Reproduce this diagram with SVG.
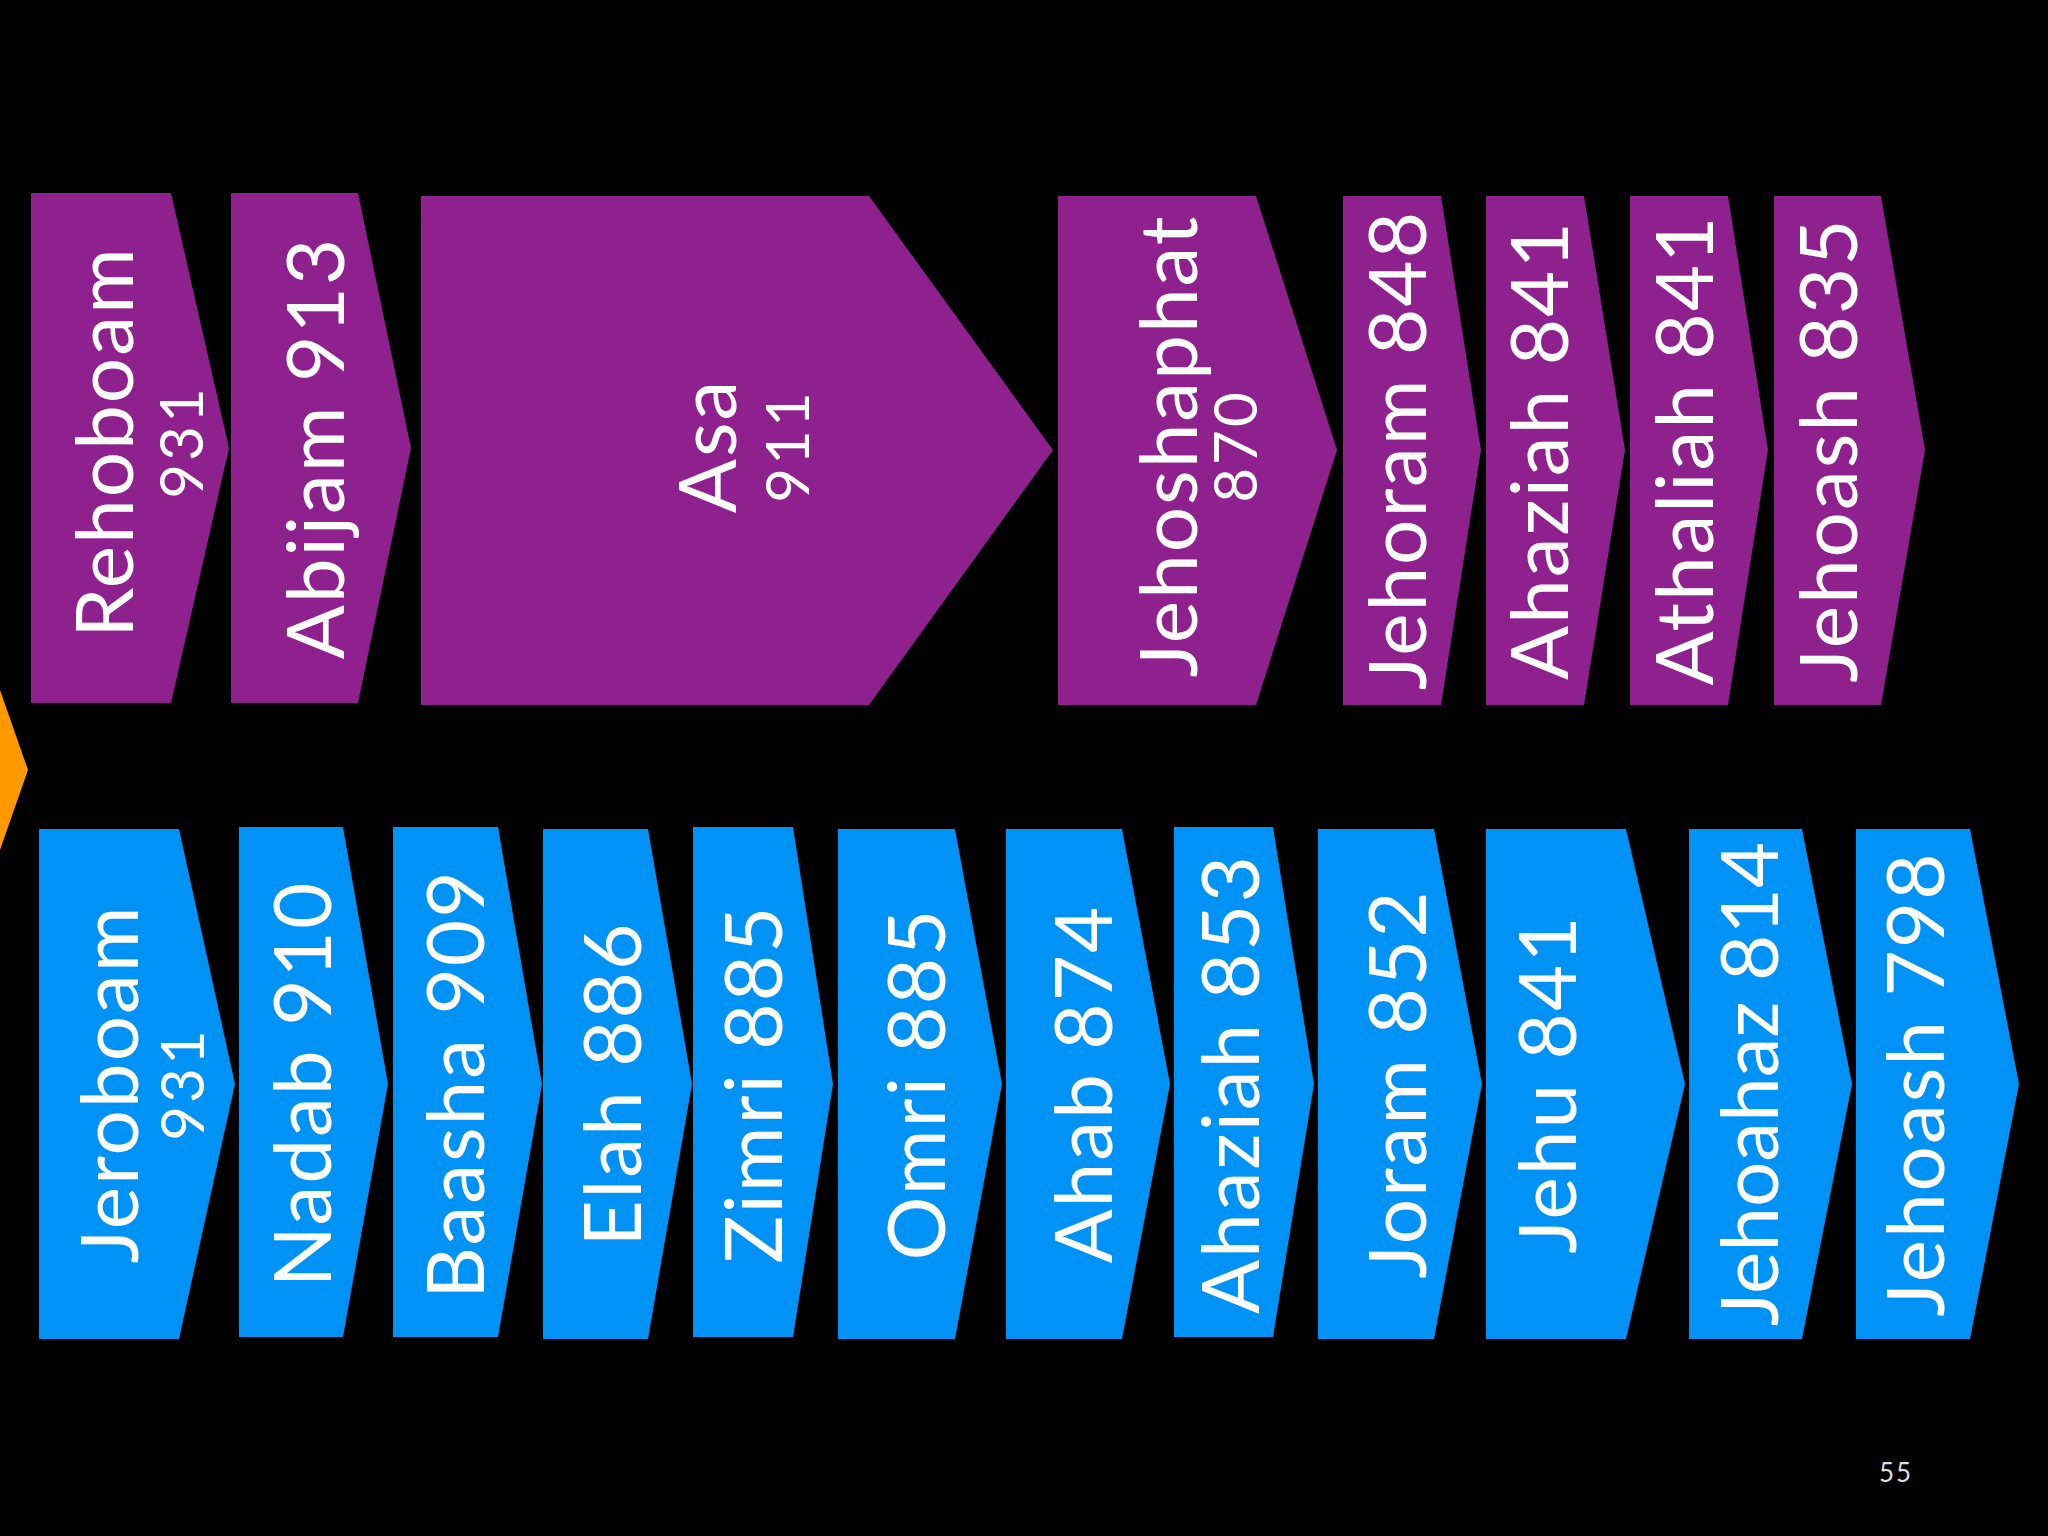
<svg xmlns="http://www.w3.org/2000/svg" width="2048" height="1536" viewBox="0 0 2048 1536">
<style>
.p{fill:#8F218F}.b{fill:#0092F5}
text{fill:#fff;font-family:Lato,"Open Sans",sans-serif;text-anchor:middle;dominant-baseline:central}
.m{font-size:80px;letter-spacing:2px}.s{font-size:60px;letter-spacing:3px}
</style>
<rect width="2048" height="1536" fill="#000"/>
<polygon points="0,690 28,770 0,850" fill="#FF9900"/>
<g id="rehoboam"><polygon class="p" points="31,193 171,193 229,448 171,703 31,703"/><text class="m" transform="translate(102,442) rotate(-90)">Rehoboam</text><text class="s" transform="translate(180,442) rotate(-90)">931</text></g>
<g id="abijam"><polygon class="p" points="231,193 358,193 411,448 358,703 231,703"/><text class="m" transform="translate(313,448) rotate(-90)">Abijam 913</text></g>
<g id="asa"><polygon class="p" points="421,196 869,196 1053,450 869,705 421,705"/><text class="m" transform="translate(705,446) rotate(-90)">Asa</text><text class="s" transform="translate(786,446) rotate(-90)">911</text></g>
<g id="jehoshaphat"><polygon class="p" points="1058,196 1256,196 1337,450 1256,705 1058,705"/><text class="m" transform="translate(1166,446) rotate(-90)">Jehoshaphat</text><text class="s" transform="translate(1234,446) rotate(-90)">870</text></g>
<g id="jehoram"><polygon class="p" points="1343,196 1441,196 1481,450 1441,705 1343,705"/><text class="m" transform="translate(1395,450) rotate(-90)">Jehoram 848</text></g>
<g id="ahaziah-j"><polygon class="p" points="1486,196 1584,196 1625,450 1584,705 1486,705"/><text class="m" transform="translate(1537,450) rotate(-90)">Ahaziah 841</text></g>
<g id="athaliah"><polygon class="p" points="1630,196 1728,196 1768,450 1728,705 1630,705"/><text class="m" transform="translate(1682,450) rotate(-90)">Athaliah 841</text></g>
<g id="jehoash-j"><polygon class="p" points="1774,196 1881,196 1925,450 1881,705 1774,705"/><text class="m" transform="translate(1826,450) rotate(-90)">Jehoash 835</text></g>
<g id="jeroboam"><polygon class="b" points="39,829 179,829 235,1084 179,1339 39,1339"/><text class="m" transform="translate(107,1084) rotate(-90)">Jeroboam</text><text class="s" transform="translate(181,1084) rotate(-90)">931</text></g>
<g id="nadab"><polygon class="b" points="239,827 343,827 388,1084 343,1337 239,1337"/><text class="m" transform="translate(300,1084) rotate(-90)">Nadab 910</text></g>
<g id="baasha"><polygon class="b" points="393,827 498,827 542,1084 498,1337 393,1337"/><text class="m" transform="translate(453,1084) rotate(-90)">Baasha 909</text></g>
<g id="elah"><polygon class="b" points="543,829 648,829 692,1084 648,1339 543,1339"/><text class="m" transform="translate(610,1084) rotate(-90)">Elah 886</text></g>
<g id="zimri"><polygon class="b" points="693,827 793,827 833,1084 793,1337 693,1337"/><text class="m" transform="translate(751,1084) rotate(-90)">Zimri 885</text></g>
<g id="omri"><polygon class="b" points="838,829 955,829 1002,1084 955,1339 838,1339"/><text class="m" transform="translate(914,1084) rotate(-90)">Omri 885</text></g>
<g id="ahab"><polygon class="b" points="1006,829 1122,829 1170,1084 1122,1339 1006,1339"/><text class="m" transform="translate(1081,1084) rotate(-90)">Ahab 874</text></g>
<g id="ahaziah-i"><polygon class="b" points="1174,827 1273,827 1314,1084 1273,1337 1174,1337"/><text class="m" transform="translate(1228,1084) rotate(-90)">Ahaziah 853</text></g>
<g id="joram"><polygon class="b" points="1318,829 1434,829 1482,1084 1434,1339 1318,1339"/><text class="m" transform="translate(1395,1084) rotate(-90)">Joram 852</text></g>
<g id="jehu"><polygon class="b" points="1486,829 1626,829 1685,1084 1626,1339 1486,1339"/><text class="m" transform="translate(1545,1084) rotate(-90)">Jehu 841</text></g>
<g id="jehoahaz"><polygon class="b" points="1689,829 1802,829 1852,1084 1802,1339 1689,1339"/><text class="m" transform="translate(1747,1084) rotate(-90)" style="letter-spacing:0px">Jehoahaz 814</text></g>
<g id="jehoash-i"><polygon class="b" points="1856,829 1970,829 2019,1084 1970,1339 1856,1339"/><text class="m" transform="translate(1913,1084) rotate(-90)">Jehoash 798</text></g>
<g id="connectors"/>
<text x="1896" y="1472" style="font-size:26px;fill:#ddd;letter-spacing:2px">55</text>
</svg>
